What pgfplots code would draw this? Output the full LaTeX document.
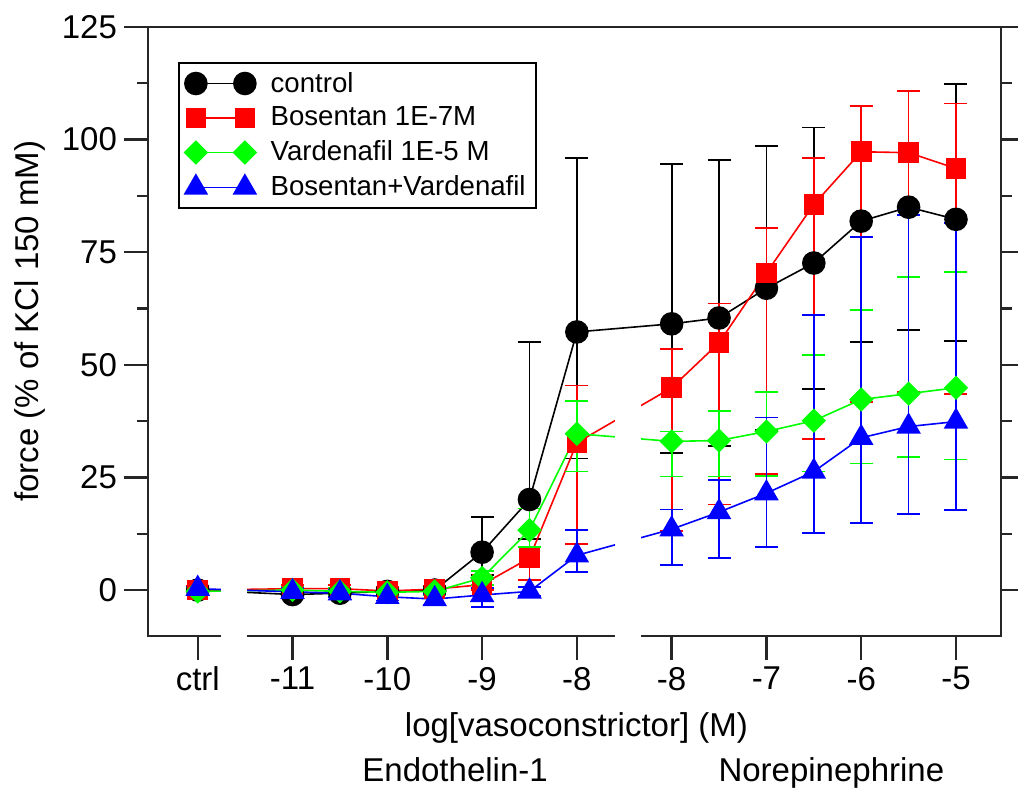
\documentclass[border=0pt]{standalone}
\usepackage{fontspec}
\setmainfont{Liberation Sans}
\usepackage{pgfplots}
\pgfplotsset{compat=1.18}

\pgfplotsset{
  eb/.style={error bars/.cd, y dir=both, y explicit,
    error bar style={line width=0.9pt},
    error mark options={rotate=90, mark size=5.75pt, line width=0.9pt}},
}

\begin{document}
\begin{tikzpicture}
\useasboundingbox (-74pt,-77.5pt) rectangle (435pt,318pt);
\begin{axis}[
  at={(0pt,0pt)}, anchor=south west,
  scale only axis, width=426.5pt, height=304.5pt,
  xmin=-1.05, xmax=16.95, ymin=-10.2, ymax=125,
  xtick={0,2,4,6,8,10,12,14,16},
  xticklabels={ctrl,-11,-10,-9,-8,-8,-7,-6,-5},
  ytick={0,25,50,75,100,125},
  minor y tick num=1,
  xtick pos=left, ytick pos=both, yticklabel pos=left,
  tick align=outside,
  major tick length=12pt, minor tick length=5.5pt,
  every tick/.style={black!85, line width=1.2pt},
  axis line style={black!85, line width=1.2pt},
  tick label style={font=\fontsize{16.5}{19}\selectfont},
  /pgf/number format/assume math mode=true,
  clip=false,
  legend cell align=left,
  legend style={at={(0.035,0.9425)}, anchor=north west, draw=black, line width=1pt,
    font=\fontsize{13.8}{16}\selectfont, inner xsep=3pt, inner ysep=2.5pt, row sep=2pt},
  legend image code/.code={\draw[#1] plot coordinates {(0pt,0pt) (24.5pt,0pt)};
    \path (35pt,0pt);},
]
% control
\addplot[black, line width=0.8pt, mark=*, mark size=5.5pt, mark options={solid}, eb] coordinates {
(0,0) +- (0,1)
(2,-1.0) +- (0,0.8)
(3,-0.7) +- (0,0.8)
(4,-0.3) +- (0,0.8)
(5,0.0) +- (0,0.8)
(6,8.4) += (0,7.8) -= (0,5)
(7,20.1) += (0,35.0) -= (0,8.8)
(8,57.3) += (0,38.7) -= (0,28.1)
(10,59.1) += (0,35.4) -= (0,28.6)
(11,60.4) += (0,35.0) -= (0,28.5)
(12,67.0) += (0,31.5) -= (0,31.4)
(13,72.6) += (0,30.1) -= (0,27.9)
(14,81.9) += (0,25.6) -= (0,26.8)
(15,85.0) += (0,25.8) -= (0,27.3)
(16,82.3) += (0,30.1) -= (0,27.0)
};
\addlegendentry{control}
% bosentan
\addplot[red, line width=0.8pt, mark=square*, mark size=4.75pt, mark options={solid}, eb] coordinates {
(0,0) +- (0,1)
(2,0.3) +- (0,0.8)
(3,0.3) +- (0,0.8)
(4,-0.2) +- (0,0.8)
(5,0.2) +- (0,0.8)
(6,1.2) +- (0,1.2)
(7,7.1) += (0,2.5) -= (0,4.9)
(8,32.7) += (0,12.7) -= (0,22.5)
(10,44.9) += (0,8.6) -= (0,31.8)
(11,54.9) += (0,8.7) -= (0,35.9)
(12,70.4) += (0,9.9) -= (0,44.7)
(13,85.6) += (0,10.4) -= (0,52.0)
(14,97.3) += (0,10.2) -= (0,55.6)
(15,97.1) += (0,13.7) -= (0,53.1)
(16,93.6) += (0,14.4) -= (0,50.0)
};
\addlegendentry{Bosentan 1E-7M}
% vardenafil
\addplot[green, line width=0.8pt, mark=square*, mark size=3.9pt, mark options={solid, rotate=45}, eb] coordinates {
(0,-0.3) +- (0,0.8)
(2,0.0) +- (0,0.8)
(3,-0.3) +- (0,0.8)
(4,-0.5) +- (0,0.8)
(5,-0.3) +- (0,0.8)
(6,2.7) +- (0,1.5)
(7,13.3) += (0,4.8) -= (0,3.8)
(8,34.7) += (0,7.3) -= (0,8.4)
(10,33.0) += (0,2.2) -= (0,7.8)
(11,33.2) += (0,6.6) -= (0,8.0)
(12,35.2) += (0,8.8) -= (0,9.8)
(13,37.6) += (0,14.6) -= (0,11.3)
(14,42.3) += (0,19.9) -= (0,14.2)
(15,43.6) += (0,25.9) -= (0,14.0)
(16,44.9) += (0,25.7) -= (0,15.9)
};
\addlegendentry{Vardenafil 1E-5 M}
% bosentan + vardenafil
\addplot[blue, line width=0.8pt, mark=triangle*, mark size=6.3pt, mark options={solid}, eb] coordinates {
(0,0.3) +- (0,0.5)
(2,-0.4) +- (0,0.8)
(3,-0.7) +- (0,0.8)
(4,-1.5) +- (0,0.8)
(5,-2.0) +- (0,1.2)
(6,-1.1) += (0,1.5) -= (0,2.7)
(7,-0.3) +- (0,1.0)
(8,7.7) += (0,5.6) -= (0,3.7)
(10,13.5) += (0,4.4) -= (0,8.0)
(11,17.3) += (0,7.2) -= (0,10.2)
(12,21.5) += (0,16.8) -= (0,12.0)
(13,26.3) += (0,34.8) -= (0,13.7)
(14,33.8) += (0,44.5) -= (0,19.0)
(15,36.3) += (0,46.9) -= (0,19.5)
(16,37.4) += (0,44.0) -= (0,19.7)
};
\addlegendentry{Bosentan+Vardenafil}

\coordinate (g1a) at (axis cs:0.5,-13);
\coordinate (g1b) at (axis cs:1.03,50);
\coordinate (g2a) at (axis cs:8.81,-13);
\coordinate (g2b) at (axis cs:9.36,50);

\node[anchor=base, font=\fontsize{16.5}{19}\selectfont] at (axis cs:7.99,-32.6) {log[vasoconstrictor] (M)};
\node[anchor=base, font=\fontsize{16.5}{19}\selectfont] at (axis cs:5.43,-42.4) {Endothelin-1};
\node[anchor=base, font=\fontsize{16.5}{19}\selectfont] at (axis cs:13.37,-42.4) {Norepinephrine};
\node[rotate=90, font=\fontsize{16.5}{19}\selectfont] at (axis cs:-3.55,59.7) {force (\% of KCl 150 mM)};
\end{axis}
\fill[white] (g1a) rectangle (g1b);
\fill[white] (g2a) rectangle (g2b);
\end{tikzpicture}
\end{document}
